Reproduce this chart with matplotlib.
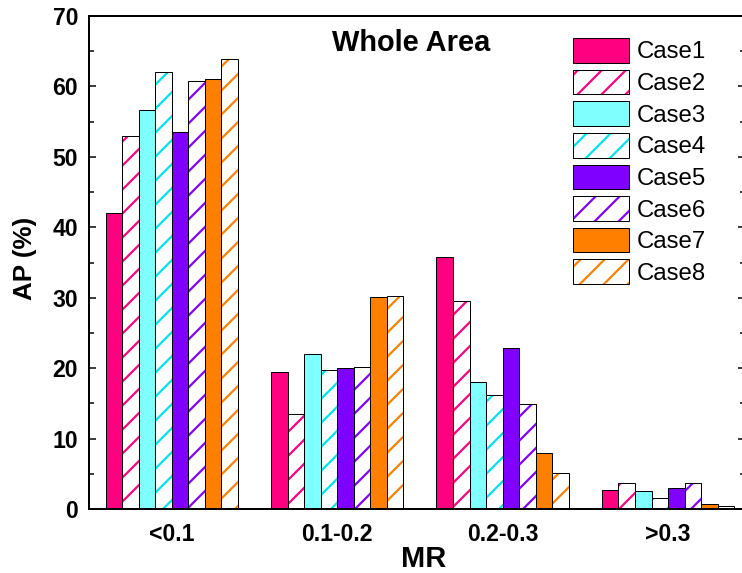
import matplotlib.pyplot as plt
import numpy as np
from matplotlib.legend_handler import HandlerTuple

plt.rcParams['font.family'] = ['Liberation Sans', 'DejaVu Sans']
plt.rcParams['hatch.linewidth'] = 2.2

# data
categories = ['<0.1', '0.1-0.2', '0.2-0.3', '>0.3']
cases = ['Case1', 'Case2', 'Case3', 'Case4', 'Case5', 'Case6', 'Case7', 'Case8']
values = [
    [42.0, 19.5, 35.8, 2.65],   # Case1
    [52.9, 13.5, 29.5, 3.65],   # Case2
    [56.7, 22.0, 18.0, 2.6],    # Case3
    [62.1, 19.7, 16.2, 1.55],   # Case4
    [53.6, 20.0, 22.9, 3.0],    # Case5
    [60.8, 20.2, 14.9, 3.7],    # Case6
    [61.0, 30.1, 7.9, 0.67],    # Case7
    [63.9, 30.3, 5.1, 0.38],    # Case8
]
colors = ['#FF0080', '#FF0080', '#80FFFF', '#00E0E8',
          '#8000FF', '#8000FF', '#FF8000', '#FF8000']
hatched = [False, True, False, True, False, True, False, True]

W, H, DPI = 742, 573, 72
fig = plt.figure(figsize=(W / DPI, H / DPI), dpi=DPI)
ax = fig.add_axes([89 / W, 1 - 509 / H, (745 - 89) / W, (509 - 16) / H])

x = np.arange(len(categories))
bw = 0.1
handles = []
for i, (name, vals) in enumerate(zip(cases, values)):
    pos = x + (i - 3.5) * bw
    if hatched[i]:
        b1 = ax.bar(pos, vals, bw, color='white', edgecolor=colors[i],
                    hatch='/', linewidth=0)
        b2 = ax.bar(pos, vals, bw, fill=False, edgecolor='black', linewidth=1)
        handles.append((b1[0], b2[0]))
    else:
        b = ax.bar(pos, vals, bw, color=colors[i], edgecolor='black', linewidth=1)
        handles.append(b[0])

ax.set_xlim(-0.5, 3.465)
ax.set_ylim(0, 70)
ax.set_xticks(x)
ax.set_xticklabels(categories, fontsize=23, fontweight='bold')
ax.set_yticks(np.arange(0, 71, 10))
ax.set_yticks(np.arange(0, 71, 5), minor=True)
ax.tick_params(axis='y', which='major', direction='in', length=7, width=1.5,
               right=True, labelsize=23, pad=11)
ax.tick_params(axis='y', which='minor', direction='in', length=5, width=1.5,
               right=True)
ax.tick_params(axis='x', length=0, pad=14)
for lab in ax.get_yticklabels():
    lab.set_fontweight('bold')
for s in ax.spines.values():
    s.set_linewidth(2)

ax.set_ylabel('AP (%)', fontsize=26, fontweight='bold')
ax.yaxis.set_label_coords((25 - 89) / (745 - 89), (509 - 258) / (509 - 16))
ax.yaxis.label.set_va('center')
ax.set_xlabel('MR', fontsize=29, fontweight='bold')
ax.xaxis.set_label_coords((424 - 89) / (745 - 89), -(559 - 509) / (509 - 16))
ax.xaxis.label.set_va('center')

fig.text(411 / W, 1 - 43 / H, 'Whole Area', fontsize=29, fontweight='bold',
         ha='center', va='center')

ax.legend(handles, cases, handler_map={tuple: HandlerTuple(ndivide=1, pad=0)},
          loc='upper left', bbox_to_anchor=(573 / W, 1 - 38 / H),
          bbox_transform=fig.transFigure, frameon=False, fontsize=24,
          handlelength=2.33, handleheight=1.2, labelspacing=0.26,
          handletextpad=0.33, borderpad=0, borderaxespad=0)

fig.savefig('out.png', dpi=DPI)
